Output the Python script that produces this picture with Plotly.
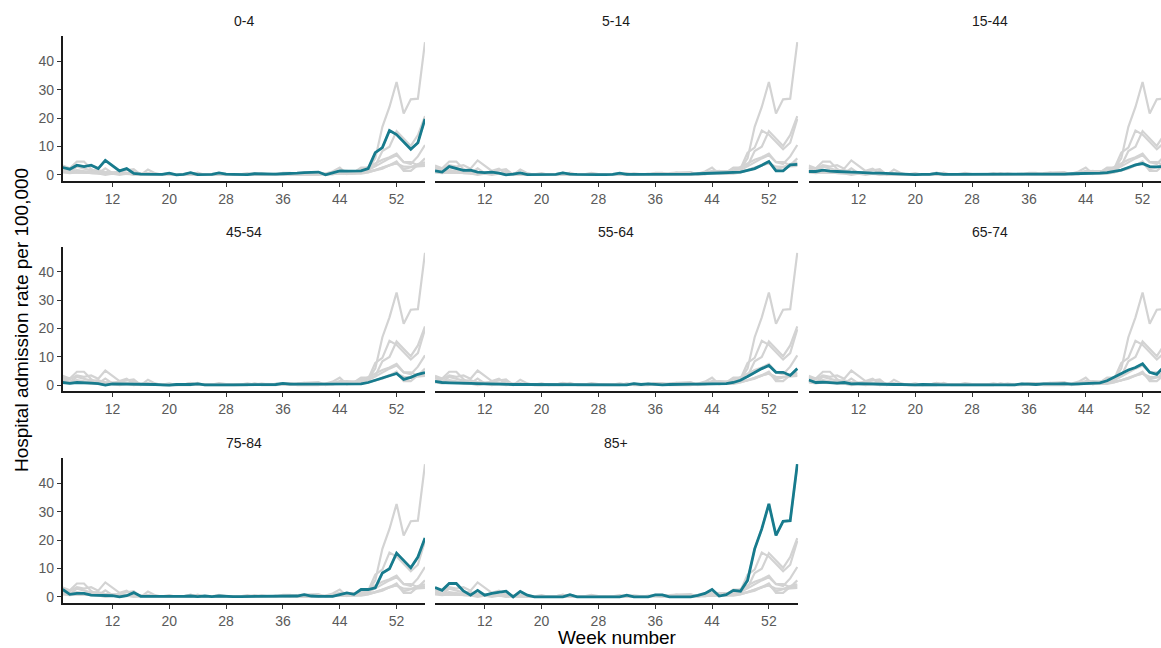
import plotly.graph_objects as go

weeks = list(range(5, 57))
groups = ["0-4", "5-14", "15-44", "45-54", "55-64", "65-74", "75-84", "85+"]

rate_0_4 = [2.6, 2.0, 3.4, 2.9, 3.4, 2.2, 5.1, 3.1, 1.4, 2.2,
            0.5, 0.3, 0.3, 0.2, 0.2, 0.6, 0.0, 0.2, 0.8, 0.1,
            0.1, 0.2, 0.7, 0.3, 0.2, 0.2, 0.1, 0.4, 0.3, 0.2,
            0.3, 0.4, 0.4, 0.6, 0.8, 0.8, 1.0, 0.0, 0.6, 1.4,
            1.3, 1.3, 1.4, 2.2, 7.8, 9.6, 15.6, 14.2, 11.7, 9.0,
            11.3, 19.7]
rate_5_14 = [1.4, 1.0, 2.9, 2.2, 1.6, 1.7, 1.0, 0.8, 1.0, 0.6,
             0.0, 0.3, 0.7, 0.1, 0.1, 0.2, 0.1, 0.2, 0.7, 0.3,
             0.2, 0.1, 0.2, 0.1, 0.1, 0.2, 0.6, 0.2, 0.2, 0.2,
             0.1, 0.2, 0.2, 0.3, 0.2, 0.3, 0.3, 0.4, 0.5, 0.6,
             0.5, 0.6, 0.8, 1.0, 1.6, 2.2, 3.4, 4.7, 1.4, 1.4,
             3.5, 3.7]
rate_15_44 = [1.2, 1.2, 1.7, 1.3, 1.2, 1.2, 1.0, 0.9, 0.7, 0.6,
              0.6, 0.5, 0.2, 0.2, 0.2, 0.1, 0.2, 0.2, 0.5, 0.2,
              0.2, 0.2, 0.1, 0.1, 0.1, 0.1, 0.1, 0.2, 0.2, 0.2,
              0.2, 0.3, 0.2, 0.2, 0.3, 0.3, 0.3, 0.4, 0.4, 0.5,
              0.5, 0.6, 0.8, 1.2, 1.7, 2.6, 3.5, 4.0, 2.9, 2.8,
              3.0, 3.2]
rate_45_54 = [0.9, 0.6, 0.9, 0.9, 0.7, 0.5, 0.0, 0.4, 0.4, 0.3,
              0.3, 0.3, 0.3, 0.2, 0.1, 0.0, 0.2, 0.1, 0.2, 0.4,
              0.1, 0.1, 0.2, 0.1, 0.1, 0.1, 0.1, 0.1, 0.1, 0.1,
              0.2, 0.6, 0.3, 0.3, 0.3, 0.2, 0.3, 0.3, 0.3, 0.4,
              0.3, 0.3, 0.4, 0.9, 1.7, 2.6, 3.5, 4.1, 2.0, 2.7,
              3.8, 4.4]
rate_55_64 = [1.3, 0.9, 0.8, 0.8, 0.7, 0.6, 0.5, 0.4, 0.4, 0.3,
              0.3, 0.2, 0.2, 0.2, 0.1, 0.1, 0.2, 0.1, 0.1, 0.2,
              0.1, 0.1, 0.1, 0.2, 0.1, 0.1, 0.2, 0.1, 0.5, 0.2,
              0.4, 0.2, 0.1, 0.2, 0.3, 0.2, 0.3, 0.3, 0.3, 0.4,
              0.4, 0.5, 0.9, 1.7, 3.0, 4.5, 5.8, 6.9, 4.5, 4.5,
              3.4, 5.8]
rate_65_74 = [1.8, 0.9, 1.0, 0.8, 0.7, 0.9, 0.4, 0.5, 0.4, 0.3,
              0.3, 0.2, 0.2, 0.2, 0.1, 0.1, 0.2, 0.1, 0.2, 0.1,
              0.1, 0.2, 0.1, 0.1, 0.2, 0.1, 0.1, 0.2, 0.1, 0.1,
              0.4, 0.3, 0.2, 0.4, 0.3, 0.4, 0.5, 0.3, 0.4, 0.5,
              0.6, 0.8, 1.5, 2.8, 4.2, 5.3, 6.2, 7.5, 4.5, 3.8,
              6.5, 10.5]
rate_75_84 = [2.6, 0.9, 1.2, 1.2, 0.6, 0.6, 0.6, 0.4, 0.0, 0.4,
              1.5, 0.2, 0.2, 0.2, 0.1, 0.0, 0.0, 0.2, 0.3, 0.1,
              0.3, 0.1, 0.3, 0.1, 0.1, 0.1, 0.1, 0.2, 0.3, 0.2,
              0.3, 0.2, 0.3, 0.3, 0.8, 0.3, 0.2, 0.3, 0.2, 0.8,
              1.4, 0.9, 2.6, 2.6, 3.2, 8.4, 9.9, 15.4, 12.8, 10.2,
              14.0, 20.7]
rate_85_plus = [3.3, 2.3, 4.7, 4.7, 2.1, 0.6, 2.3, 0.6, 1.2, 1.5,
                2.0, 0.0, 1.9, 0.6, 0.0, 0.0, 0.0, 0.0, 0.0, 0.8,
                0.0, 0.0, 0.0, 0.0, 0.0, 0.0, 0.0, 0.6, 0.0, 0.0,
                0.0, 0.7, 0.7, 0.0, 0.0, 0.0, 0.0, 0.5, 1.2, 2.6,
                0.3, 0.8, 2.3, 2.0, 5.8, 16.9, 23.9, 32.7, 21.6, 26.6,
                26.8, 46.7]

series = [rate_0_4, rate_5_14, rate_15_44, rate_45_54,
          rate_55_64, rate_65_74, rate_75_84, rate_85_plus]

x_ticks = [12, 20, 28, 36, 44, 52]
y_ticks = [0, 10, 20, 30, 40]

W, H = 1161, 648
TEAL = "#177b8d"
GREY = "#d3d3d3"
FONT = "Liberation Sans, Arial, sans-serif"

col_px = [(62.7, 425.0), (435.0, 798.3), (808.7, 1161.0)]
row_px = [(36.0, 181.7), (247.3, 392.5), (459.3, 605.0)]
px_per_week = (425.0 - 62.7) / 51.0


def fx(px):
    return px / W


def fy(py):
    return 1 - py / H


fig = go.Figure()
layout = dict(
    width=W, height=H, autosize=False,
    margin=dict(l=0, r=0, t=0, b=0),
    paper_bgcolor="white", plot_bgcolor="white",
    showlegend=False,
    font=dict(family=FONT),
)
annotations = []

for i, g in enumerate(groups):
    r, c = divmod(i, 3)
    n = i + 1
    xref = "x" if n == 1 else f"x{n}"
    yref = "y" if n == 1 else f"y{n}"
    for s in series:
        fig.add_trace(go.Scatter(x=weeks, y=s, mode="lines",
                                 line=dict(color=GREY, width=2.2),
                                 xaxis=xref, yaxis=yref, hoverinfo="skip"))
    fig.add_trace(go.Scatter(x=weeks, y=series[i], mode="lines",
                             line=dict(color=TEAL, width=2.8),
                             xaxis=xref, yaxis=yref, name=g))
    x0, x1 = col_px[c]
    y0, y1 = row_px[r]
    xmax = 5 + (x1 - x0) / px_per_week
    layout[f"xaxis{n}"] = dict(
        domain=[fx(x0), fx(x1)], range=[5, xmax], anchor=yref,
        tickvals=x_ticks, ticks="outside", ticklen=4, tickwidth=1.2,
        tickcolor="#333333", showline=True, linecolor="#1a1a1a", linewidth=1.8,
        showgrid=False, zeroline=False,
        tickfont=dict(size=14, color="#5a5a5a", family=FONT),
    )
    first_col = (c == 0)
    layout[f"yaxis{n}"] = dict(
        domain=[fy(y1), fy(y0)], range=[-2.2, 48.9], anchor=xref,
        tickvals=y_ticks, ticks="outside" if first_col else "", ticklen=4, tickwidth=1.2,
        tickcolor="#333333", showline=first_col, linecolor="#1a1a1a", linewidth=1.8,
        showticklabels=first_col, showgrid=False, zeroline=False,
        tickfont=dict(size=14, color="#5a5a5a", family=FONT),
    )
    full_x1 = x0 + 51 * px_per_week
    annotations.append(dict(
        text=g, xref="paper", yref="paper",
        x=fx((x0 + full_x1) / 2), y=fy(y0 - 15),
        xanchor="center", yanchor="middle", showarrow=False,
        font=dict(size=14, color="#1a1a1a", family=FONT),
    ))

annotations.append(dict(
    text="Week number", xref="paper", yref="paper",
    x=fx(617), y=fy(639), xanchor="center", yanchor="middle",
    showarrow=False, font=dict(size=19, color="#000000", family=FONT),
))
annotations.append(dict(
    text="Hospital admission rate per 100,000", xref="paper", yref="paper",
    x=fx(21), y=fy(321), xanchor="center", yanchor="middle",
    textangle=-90, showarrow=False, font=dict(size=19, color="#000000", family=FONT),
))
layout["annotations"] = annotations
fig.update_layout(**layout)
fig.write_html(
    "out.html",
    config={"displayModeBar": False},
    post_script="document.body.style.margin='0';"
                "document.documentElement.style.overflow='hidden';",
)
